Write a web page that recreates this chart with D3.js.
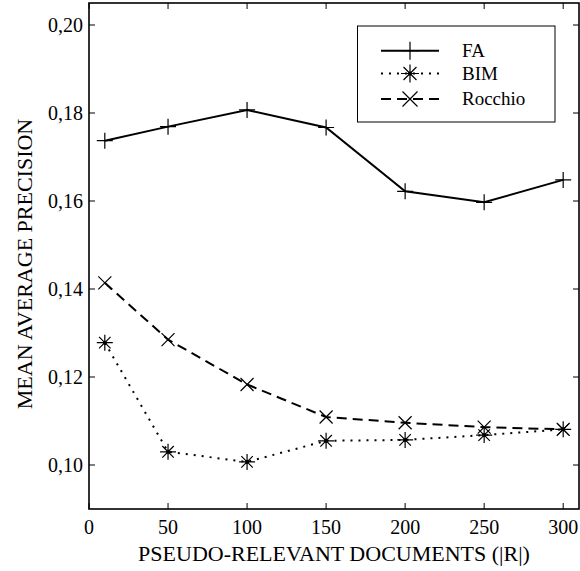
<!DOCTYPE html>
<html>
<head>
<meta charset="utf-8">
<script src="https://cdn.jsdelivr.net/npm/d3@7"></script>
<style>
  html, body { margin: 0; padding: 0; background: #fff; }
  svg { display: block; }
  text { font-family: "Liberation Serif", "DejaVu Serif", serif; fill: #000; }
</style>
</head>
<body>
<svg id="chart" width="580" height="571"></svg>
<script>
// Number of pseudo-relevant documents |R|
const docs = [10, 50, 100, 150, 200, 250, 300];
// Mean average precision for each method
const faValues = [0.1737, 0.1769, 0.1807, 0.1767, 0.1622, 0.1597, 0.1648];
const bimValues = [0.1278, 0.1030, 0.1007, 0.1055, 0.1057, 0.1068, 0.1081];
const rocchioValues = [0.1414, 0.1285, 0.1183, 0.1109, 0.1096, 0.1086, 0.1081];
const seriesNames = ["FA", "BIM", "Rocchio"];
const xTicks = [0, 50, 100, 150, 200, 250, 300];
const yTicks = [0.10, 0.12, 0.14, 0.16, 0.18, 0.20];

const svg = d3.select("#chart");
const plotLeft = 89, plotRight = 579, plotTop = 3, plotBottom = 509;

const x = d3.scaleLinear().domain([0, 310]).range([plotLeft, plotRight]);
const y = d3.scaleLinear().domain([0.09, 0.205]).range([plotBottom, plotTop]);

const locale = d3.formatLocale({ decimal: ",", thousands: ".", grouping: [3], currency: ["", ""] });
const fmtY = locale.format(".2f");

// Frame
svg.append("rect")
  .attr("x", plotLeft).attr("y", plotTop)
  .attr("width", plotRight - plotLeft).attr("height", plotBottom - plotTop)
  .attr("fill", "none").attr("stroke", "#000").attr("stroke-width", 1.6);

// Ticks pointing inward on all four sides
const tickLen = 6;
const tickG = svg.append("g").attr("stroke", "#000").attr("stroke-width", 1);
xTicks.forEach(t => {
  const px = x(t);
  tickG.append("line").attr("x1", px).attr("x2", px).attr("y1", plotBottom).attr("y2", plotBottom - tickLen);
  tickG.append("line").attr("x1", px).attr("x2", px).attr("y1", plotTop).attr("y2", plotTop + tickLen);
});
yTicks.forEach(t => {
  const py = y(t);
  tickG.append("line").attr("x1", plotLeft).attr("x2", plotLeft + tickLen).attr("y1", py).attr("y2", py);
  tickG.append("line").attr("x1", plotRight).attr("x2", plotRight - tickLen).attr("y1", py).attr("y2", py);
});

// Tick labels
svg.append("g").selectAll("text").data(xTicks).join("text")
  .attr("x", d => x(d)).attr("y", 534)
  .attr("text-anchor", "middle").attr("font-size", 20)
  .text(d => d);
svg.append("g").selectAll("text").data(yTicks).join("text")
  .attr("x", 83).attr("y", d => y(d)).attr("dy", "0.34em")
  .attr("text-anchor", "end").attr("font-size", 20)
  .text(d => fmtY(d));

// Axis titles
svg.append("text")
  .attr("x", (plotLeft + plotRight) / 2).attr("y", 561)
  .attr("text-anchor", "middle").attr("font-size", 22)
  .text("PSEUDO-RELEVANT DOCUMENTS (|R|)");
svg.append("text")
  .attr("transform", "translate(32,264) rotate(-90)")
  .attr("text-anchor", "middle").attr("font-size", 22)
  .text("MEAN AVERAGE PRECISION");

// Marker drawers
function plusMarker(g, cx, cy, s) {
  g.append("path").attr("d", `M${cx - s},${cy}H${cx + s}M${cx},${cy - s}V${cy + s}`)
    .attr("stroke", "#000").attr("stroke-width", 1.2).attr("fill", "none");
}
function crossMarker(g, cx, cy, s) {
  g.append("path").attr("d", `M${cx - s},${cy - s}L${cx + s},${cy + s}M${cx - s},${cy + s}L${cx + s},${cy - s}`)
    .attr("stroke", "#000").attr("stroke-width", 1.2).attr("fill", "none");
}
function starMarker(g, cx, cy, s) {
  const d = s * 0.72;
  g.append("path").attr("d",
      `M${cx - s},${cy}H${cx + s}M${cx},${cy - s}V${cy + s}` +
      `M${cx - d},${cy - d}L${cx + d},${cy + d}M${cx - d},${cy + d}L${cx + d},${cy - d}`)
    .attr("stroke", "#000").attr("stroke-width", 1.2).attr("fill", "none");
  g.append("circle").attr("cx", cx).attr("cy", cy).attr("r", 2).attr("fill", "#000");
}

const series = [
  { name: seriesNames[0], values: faValues, dash: null, marker: plusMarker, size: 8 },
  { name: seriesNames[1], values: bimValues, dash: "2,6", marker: starMarker, size: 8 },
  { name: seriesNames[2], values: rocchioValues, dash: "10,6", marker: crossMarker, size: 6.5 }
];

const line = d3.line().x((d, i) => x(docs[i])).y(d => y(d));

series.forEach(s => {
  const g = svg.append("g");
  g.append("path").datum(s.values)
    .attr("d", line)
    .attr("fill", "none").attr("stroke", "#000").attr("stroke-width", 2)
    .attr("stroke-dasharray", s.dash);
  s.values.forEach((v, i) => s.marker(g, x(docs[i]), y(v), s.size));
});

// Legend
const lg = svg.append("g");
lg.append("rect").attr("x", 357.5).attr("y", 26).attr("width", 197.5).attr("height", 96)
  .attr("fill", "#fff").attr("stroke", "#000").attr("stroke-width", 1);
const legendY = [50.7, 73.5, 99];
series.forEach((s, i) => {
  const ly = legendY[i];
  lg.append("line").attr("x1", 381).attr("x2", 439).attr("y1", ly).attr("y2", ly)
    .attr("stroke", "#000").attr("stroke-width", 2)
    .attr("stroke-dasharray", s.dash);
  s.marker(lg, 410, ly, s.size + 1);
  lg.append("text").attr("x", 462).attr("y", ly).attr("dy", "0.34em")
    .attr("font-size", 19).text(s.name);
});
</script>
</body>
</html>
